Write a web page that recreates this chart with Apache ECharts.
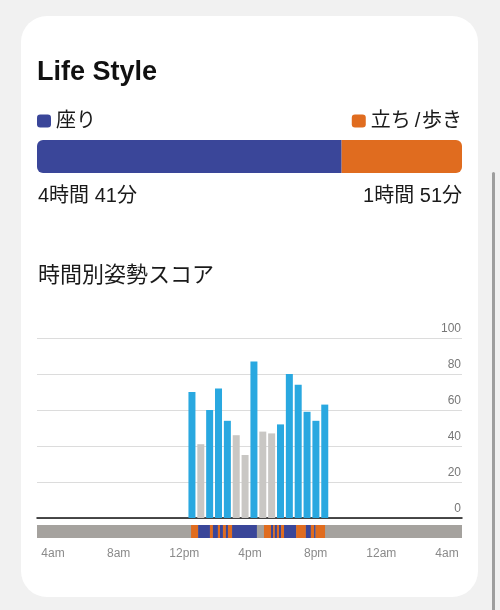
<!DOCTYPE html>
<html>
<head>
<meta charset="utf-8">
<title>Life Style</title>
<script src="https://cdn.jsdelivr.net/npm/echarts/dist/echarts.min.js"></script>
<style>
html, body { margin: 0; padding: 0; background: #f1f1f1; }
#main { width: 500px; height: 610px; }
</style>
</head>
<body>
<div id="main"></div>
<script>
// 座り / 立ち・歩き の合計（分）
var sitMinutes = 281;
var standMinutes = 111;

// 時間別姿勢スコア（30分ごと）
var scoreTimes = ['12:30', '13:00', '13:30', '14:00', '14:30', '15:00', '15:30', '16:00',
                  '16:30', '17:00', '17:30', '18:00', '18:30', '19:00', '19:30', '20:00'];
var scoreValues = [70, 41, 60, 72, 54, 46, 35, 87, 48, 47, 52, 80, 74, 59, 54, 63];
var scoreState = ['ok', 'low', 'ok', 'ok', 'ok', 'low', 'low', 'ok',
                  'low', 'low', 'ok', 'ok', 'ok', 'ok', 'ok', 'ok'];

// 姿勢タイムライン [開始, 終了, 状態]
var postureSegments = [
    ['12:42', '13:06', 'stand'],
    ['13:06', '13:46', 'sit'],
    ['13:46', '13:56', 'stand'],
    ['13:56', '14:13', 'sit'],
    ['14:13', '14:20', 'stand'],
    ['14:20', '14:30', 'sit'],
    ['14:30', '14:40', 'stand'],
    ['14:40', '14:47', 'sit'],
    ['14:47', '15:01', 'stand'],
    ['15:01', '16:25', 'sit'],
    ['16:49', '17:13', 'stand'],
    ['17:13', '17:20', 'sit'],
    ['17:20', '17:26', 'stand'],
    ['17:26', '17:33', 'sit'],
    ['17:33', '17:40', 'stand'],
    ['17:40', '17:47', 'sit'],
    ['17:47', '17:57', 'stand'],
    ['17:57', '18:38', 'sit'],
    ['18:38', '19:11', 'stand'],
    ['19:11', '19:28', 'sit'],
    ['19:28', '19:39', 'stand'],
    ['19:39', '19:44', 'sit'],
    ['19:44', '20:16', 'stand']
];

var timeLabels = ['4am', '8am', '12pm', '4pm', '8pm', '12am', '4am'];

var SIT = '#3a4699';
var STAND = '#e06c1f';
var FONT = "'Liberation Sans', 'Noto Sans CJK JP', sans-serif";
var STAND_NAME = '立ち\u2009/\u200a歩き';

function toMin(t) {
    var p = t.split(':');
    return parseInt(p[0]) * 60 + parseInt(p[1]);
}
function fmtDur(m) {
    return Math.floor(m / 60) + '時間 ' + (m % 60) + '分';
}

var dayStart = toMin('04:00');
var dayEnd = dayStart + 24 * 60;

var barData = scoreTimes.map(function (t, i) {
    return {
        value: [toMin(t) + 15, scoreValues[i]],
        itemStyle: { color: scoreState[i] == 'ok' ? '#29a8e0' : '#c9c7c4' }
    };
});

var segData = postureSegments.map(function (s) {
    return [toMin(s[0]), toMin(s[1]), s[2] == 'sit' ? 0 : 1];
});

var chart = echarts.init(document.getElementById('main'));

var option = {
    backgroundColor: '#f1f1f1',
    animation: false,
    textStyle: { fontFamily: FONT },
    graphic: [
        { type: 'rect', z: -10, shape: { x: 21, y: 16, width: 457, height: 581, r: 26 }, style: { fill: '#ffffff' } },
        { type: 'rect', z: -10, shape: { x: 492, y: 172, width: 3, height: 440, r: 1.5 }, style: { fill: '#9e9e9e' } },
        { type: 'text', x: 37, y: 73, style: { text: 'Life Style', font: 'bold 27px ' + FONT, fill: '#111', textAlign: 'left', textVerticalAlign: 'middle' } },
        { type: 'text', x: 38, y: 196, style: { text: fmtDur(sitMinutes), font: '20px ' + FONT, fill: '#1a1a1a', textAlign: 'left', textVerticalAlign: 'middle' } },
        { type: 'text', x: 462, y: 196, style: { text: fmtDur(standMinutes), font: '20px ' + FONT, fill: '#1a1a1a', textAlign: 'right', textVerticalAlign: 'middle' } },
        { type: 'text', x: 38, y: 276, style: { text: '時間別姿勢スコア', font: '22px ' + FONT, fill: '#1a1a1a', textAlign: 'left', textVerticalAlign: 'middle' } }
    ],
    legend: [{
        data: ['座り'], left: 37, top: 111, padding: 0, selectedMode: false,
        icon: 'roundRect', itemWidth: 14, itemHeight: 13,
        textStyle: { fontSize: 20, color: '#1a1a1a', fontFamily: FONT }
    }, {
        data: [STAND_NAME], right: 38, top: 111, padding: 0, selectedMode: false,
        icon: 'roundRect', itemWidth: 14, itemHeight: 13,
        textStyle: { fontSize: 20, color: '#1a1a1a', fontFamily: FONT }
    }],
    grid: [
        { left: 37, right: 38, top: 338, height: 180 },
        { left: 37, right: 38, top: 525, height: 13, show: true, backgroundColor: '#a5a29e', borderWidth: 0 },
        { left: 53, right: 53, top: 539, height: 1 },
        { left: 37, right: 38, top: 140, height: 33 }
    ],
    xAxis: [{
        gridIndex: 0, type: 'value', min: dayStart, max: dayEnd,
        axisLine: { show: true, lineStyle: { color: '#111', width: 1.5 } },
        axisTick: { show: false }, axisLabel: { show: false }, splitLine: { show: false }
    }, {
        gridIndex: 1, type: 'value', min: dayStart, max: dayEnd, show: false
    }, {
        gridIndex: 2, type: 'category', boundaryGap: false, data: timeLabels,
        axisLine: { show: false }, axisTick: { show: false },
        axisLabel: { color: '#8a8a8a', fontSize: 12, margin: 8, interval: 0 }
    }, {
        gridIndex: 3, type: 'value', min: 0, max: sitMinutes + standMinutes, show: false
    }],
    yAxis: [{
        gridIndex: 0, type: 'value', position: 'right', min: 0, max: 100, interval: 20,
        axisLine: { show: false }, axisTick: { show: false },
        axisLabel: { inside: true, margin: 1, color: '#777', fontSize: 12, verticalAlign: 'bottom', padding: [0, 0, 3, 0] },
        splitLine: { lineStyle: { color: '#dcdcdc', width: 1 } }
    }, {
        gridIndex: 1, type: 'category', data: ['posture'], show: false
    }, {
        gridIndex: 2, type: 'value', show: false
    }, {
        gridIndex: 3, type: 'category', data: ['total'], show: false
    }],
    series: [{
        type: 'bar', xAxisIndex: 0, yAxisIndex: 0, barWidth: 7, data: barData
    }, {
        type: 'custom', xAxisIndex: 1, yAxisIndex: 1, data: segData,
        renderItem: function (params, api) {
            var s = api.coord([api.value(0), 0]);
            var e = api.coord([api.value(1), 0]);
            var h = api.size([0, 1])[1];
            return {
                type: 'rect',
                shape: { x: s[0], y: s[1] - h / 2, width: e[0] - s[0], height: h },
                style: { fill: api.value(2) == 0 ? SIT : STAND }
            };
        }
    }, {
        name: '座り', type: 'bar', xAxisIndex: 3, yAxisIndex: 3, stack: 'total', barWidth: 33,
        itemStyle: { color: SIT, borderRadius: [6, 0, 0, 6] }, data: [sitMinutes]
    }, {
        name: STAND_NAME, type: 'bar', xAxisIndex: 3, yAxisIndex: 3, stack: 'total', barWidth: 33,
        itemStyle: { color: STAND, borderRadius: [0, 6, 6, 0] }, data: [standMinutes]
    }]
};

chart.setOption(option);
</script>
</body>
</html>
